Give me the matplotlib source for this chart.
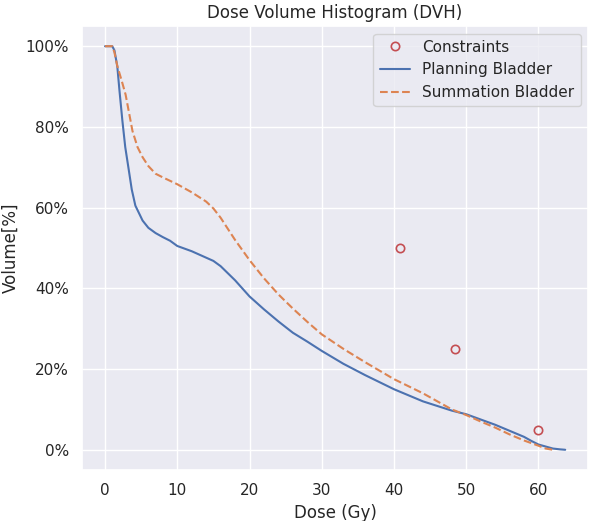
import matplotlib
matplotlib.use('Agg')
import matplotlib.pyplot as plt
import seaborn as sns
from matplotlib.ticker import PercentFormatter

# Dose (Gy) / volume (%) pairs for each DVH curve
planning_dose = [0, 1.0, 1.3, 1.7, 2.0, 2.4, 2.8, 3.3, 3.7, 4.2, 5.2, 6, 7, 8, 9, 10, 12, 14, 15, 16, 18, 20,
                 22, 24, 26, 28, 30, 33, 36, 40, 44, 48, 50, 52, 54, 56, 58, 59, 60, 61, 62, 63, 63.7]
planning_volume = [100, 100, 99, 95, 89, 81.6, 75, 69.2, 64.5, 60.5, 56.8, 55, 53.7, 52.7, 51.8, 50.5, 49.2, 47.6, 46.8, 45.5, 42, 38,
                   34.8, 31.8, 29, 26.8, 24.5, 21.3, 18.5, 15, 12, 9.7, 8.8, 7.5, 6.2, 4.7, 3.2, 2.2, 1.3, 0.8, 0.3, 0.1, 0]

summation_dose = [0, 1.0, 1.3, 1.7, 2.3, 2.85, 3.8, 4.5, 5.2, 6, 7, 8, 10, 12, 14, 15, 16, 18, 20, 22, 24, 26, 28, 30,
                  33, 36, 40, 44, 48, 50, 52, 54, 56, 58, 60, 61, 62]
summation_volume = [100, 100, 98.5, 95.1, 91.5, 88, 79, 75, 72.5, 70.3, 68.4, 67.5, 65.8, 63.8, 61.5, 59.8, 57.5, 52, 47, 42.5, 38.5, 35, 31.7, 28.6,
                    25, 21.7, 17.5, 14, 10, 8.6, 7, 5.5, 3.8, 2.3, 1.0, 0.3, 0]

constraint_dose = [40.8, 48.5, 60]
constraint_volume = [50, 25, 5]

sns.set_theme(style='darkgrid')

fig, ax = plt.subplots(figsize=(5.9, 5.21), dpi=100)
ax.plot(constraint_dose, constraint_volume, 'o', mfc='none', mec='C3', mew=1.2, label='Constraints')
ax.plot(planning_dose, planning_volume, '-', color='C0', lw=1.5, label='Planning Bladder')
ax.plot(summation_dose, summation_volume, '--', color='C1', lw=1.5, label='Summation Bladder')

ax.yaxis.set_major_formatter(PercentFormatter(decimals=0))
ax.set_xticks([0, 10, 20, 30, 40, 50, 60])
ax.set_yticks([0, 20, 40, 60, 80, 100])
ax.set_title('Dose Volume Histogram (DVH)')
ax.set_xlabel('Dose (Gy)')
ax.set_ylabel('Volume[%]')
ax.legend(loc='upper right')

fig.subplots_adjust(left=0.139, right=0.997, top=0.95, bottom=0.098)
fig.savefig('out.png', dpi=100)
